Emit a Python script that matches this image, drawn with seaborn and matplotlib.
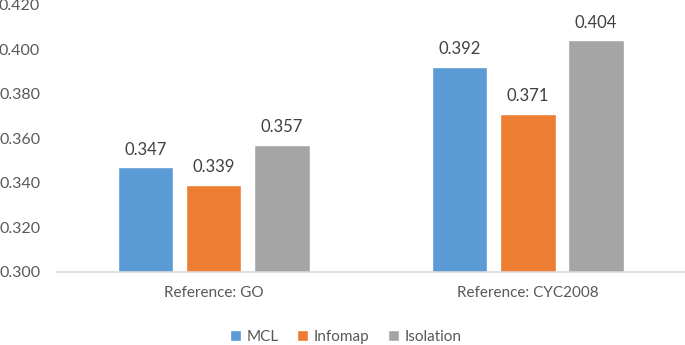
import matplotlib
matplotlib.use("Agg")
import matplotlib.pyplot as plt
import seaborn as sns
import pandas as pd

# data
groups = ["Reference: GO", "Reference: CYC2008"]
methods = ["MCL", "Infomap", "Isolation"]
mcl = [0.347, 0.392]
infomap = [0.339, 0.371]
isolation = [0.357, 0.404]
colors = ["#5B9BD5", "#ED7D31", "#A5A5A5"]

df = pd.DataFrame({
    "group": groups * 3,
    "method": [m for m in methods for _ in groups],
    "value": mcl + infomap + isolation,
})

sns.set_style("white")
plt.rcParams["font.family"] = ["Lato", "DejaVu Sans"]

fig = plt.figure(figsize=(6.85, 3.45), dpi=100)
ax = fig.add_axes([0.083, 0.212, 0.917, 0.774])

sns.barplot(data=df, x="group", y="value", hue="method", order=groups,
            hue_order=methods, palette=colors, width=0.65, gap=0.19,
            saturation=1, ax=ax, legend=True)

ax.set_ylim(0.300, 0.420)
ax.set_xlim(-0.5, 1.5)
ax.set_yticks([0.300, 0.320, 0.340, 0.360, 0.380, 0.400, 0.420])
ax.yaxis.set_major_formatter(matplotlib.ticker.FormatStrFormatter("%.3f"))
ax.tick_params(axis="y", labelsize=11.5, labelcolor="#595959", length=0, pad=12)
ax.tick_params(axis="x", labelsize=11, labelcolor="#595959", length=0, pad=10)
ax.set_xlabel("")
ax.set_ylabel("")
ax.grid(False)

for s in ["left", "right", "top"]:
    ax.spines[s].set_visible(False)
ax.spines["bottom"].set_color("#D9D9D9")
ax.spines["bottom"].set_linewidth(1.2)

for cont in ax.containers:
    ax.bar_label(cont, fmt="%.3f", padding=7, fontsize=12, color="#404040")

handles, labels = ax.get_legend_handles_labels()
ax.legend(handles, labels, loc="lower center", bbox_to_anchor=(0.46, -0.32),
          ncol=3, frameon=False, fontsize=11, handlelength=0.7,
          handleheight=0.7, handletextpad=0.4, columnspacing=1.2,
          labelcolor="#595959")

fig.savefig("out.png", dpi=100)
